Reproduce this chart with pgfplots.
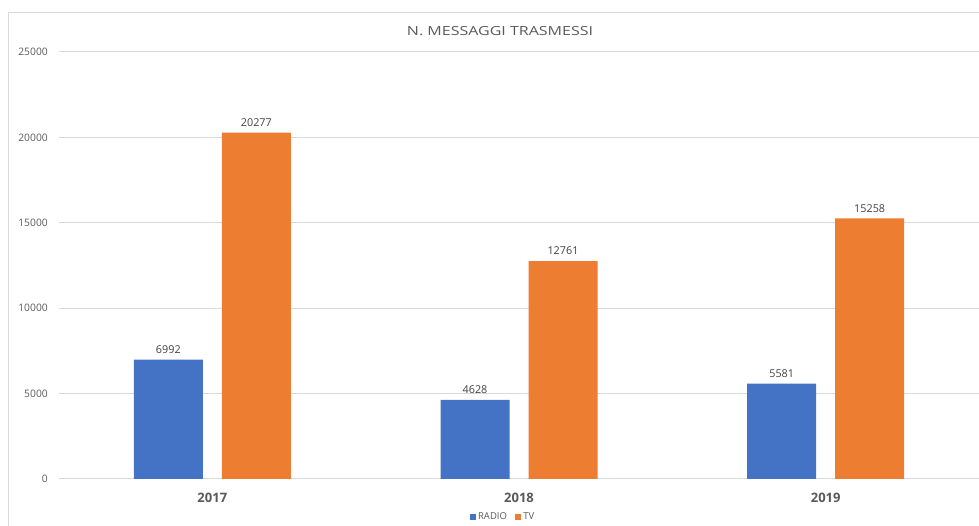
\documentclass[border=0pt]{standalone}
\usepackage{fontspec}
\setmainfont{Open Sans}
\usepackage{pgfplots}
\pgfplotsset{compat=1.18}
\definecolor{radio}{HTML}{4472C4}
\definecolor{tv}{HTML}{ED7D31}
\definecolor{gridc}{HTML}{D9D9D9}
\definecolor{txt}{HTML}{595959}
\definecolor{lbl}{HTML}{404040}
\begin{document}
\begin{tikzpicture}[x=1pt,y=1pt]
\path[use as bounding box] (0,0) rectangle (979,526);
\draw[gridc, line width=1pt] (8.5,0) -- (8.5,513.5) -- (979,513.5);
\node[txt, font=\fontsize{12.5}{15}\selectfont, xscale=1.28] at (500,495) {N. MESSAGGI TRASMESSI};
\begin{axis}[
  at={(59pt,47pt)}, anchor=south west,
  scale only axis, width=920pt, height=427pt,
  ymin=0, ymax=25000, xmin=-0.5, xmax=2.5,
  ybar=19pt, bar width=69pt,
  axis line style={draw=none},
  tick style={draw=none},
  ymajorgrids, grid style={gridc, line width=1pt},
  ytick={0,5000,10000,15000,20000,25000},
  xtick={0,1,2}, xticklabels={2017,2018,2019},
  /pgf/number format/assume math mode=true,
  /pgf/number format/1000 sep={},
  scaled y ticks=false,
  yticklabel style={txt, font=\fontsize{10.3}{12}\selectfont, anchor=east, inner sep=0pt, xshift=-11pt},
  xticklabel style={txt, font=\bfseries\fontsize{13}{15}\selectfont, anchor=center, inner sep=0pt, yshift=-15pt},
  nodes near coords,
  nodes near coords style={lbl, font=\fontsize{10.8}{12}\selectfont, anchor=center, inner sep=0pt, yshift=10pt},
  legend style={at={(0.4826,-0.089)}, anchor=center, draw=none, fill=none,
    legend columns=2, font=\fontsize{9.5}{12}\selectfont, text=txt,
    /tikz/every even column/.append style={column sep=6pt}},
  legend image code/.code={\fill[#1] (0pt,-2.5pt) rectangle (6.5pt,3.5pt);},
  clip=false,
]
\addplot[fill=radio, draw=none] coordinates {(0,6992) (1,4628) (2,5581)};
\addplot[fill=tv, draw=none] coordinates {(0,20277) (1,12761) (2,15258)};
\legend{RADIO,TV}
\end{axis}
\end{tikzpicture}
\end{document}
